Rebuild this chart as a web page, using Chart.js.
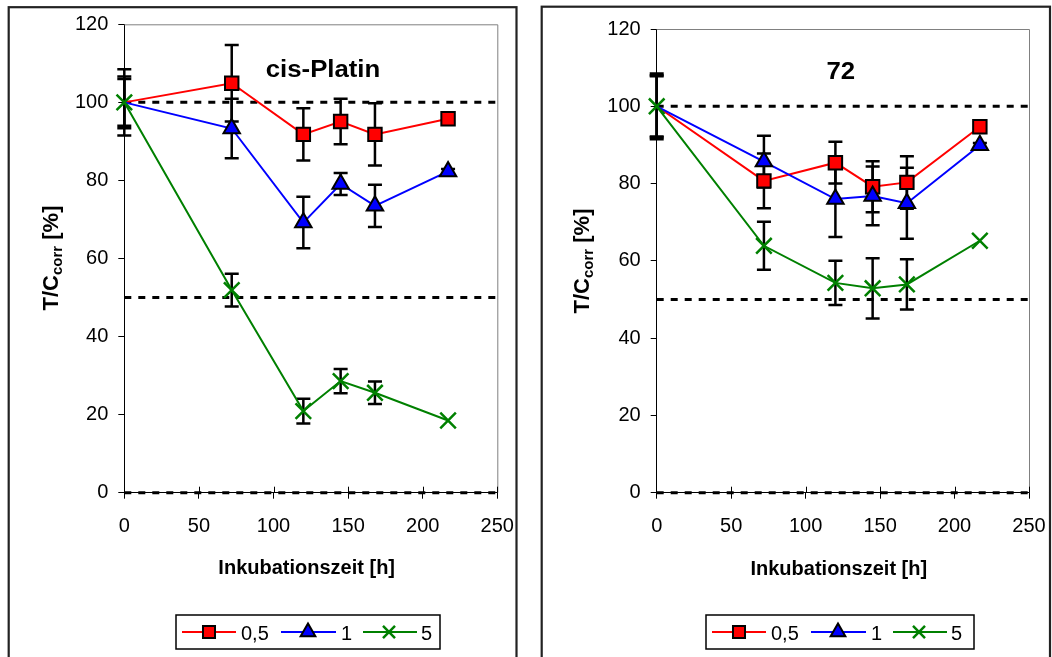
<!DOCTYPE html>
<html>
<head>
<meta charset="utf-8">
<script src="https://cdn.jsdelivr.net/npm/chart.js@4.4.1/dist/chart.umd.min.js"></script>
<style>
  html, body { margin: 0; padding: 0; background: #fff; width: 1052px; height: 657px; overflow: hidden; }
  canvas { position: absolute; top: 0; }
</style>
</head>
<body>
<canvas id="cisPlatin" width="526" height="657" style="left:0"></canvas>
<canvas id="cmp72" width="526" height="657" style="left:526px"></canvas>
<script>
// Incubation times [h]
const hours = [0, 72, 120, 145, 168, 217];
const seriesNames = ['0,5', '1', '5'];
const xTickValues = [0, 50, 100, 150, 200, 250];
const yTickValues = [0, 20, 40, 60, 80, 100, 120];
const refLevels = [100, 50, 0];

// cis-Platin: T/Ccorr [%] and standard deviations
const cisLow = [100, 104.9, 91.8, 95.1, 91.8, 95.8];
const cisLowErr = [8.5, 9.8, 6.7, 5.8, 8.0, 0];
const cisMid = [100, 93.3, 69.2, 79.1, 73.5, 82.3];
const cisMidErr = [6.0, 7.6, 6.6, 2.8, 5.4, 0.6];
const cisHigh = [100, 51.9, 20.9, 28.6, 25.6, 18.5];
const cisHighErr = [6.6, 4.2, 3.2, 3.1, 2.9, 0];

// Compound 72: T/Ccorr [%] and standard deviations
const c72Low = [100, 80.7, 85.4, 79.2, 80.3, 94.7];
const c72LowErr = [8.5, 7.1, 5.4, 6.6, 6.8, 0];
const c72Mid = [100, 85.7, 76.0, 76.8, 74.9, 89.9];
const c72MidErr = [7.8, 6.7, 9.8, 7.6, 9.2, 0.6];
const c72High = [100, 63.9, 54.3, 52.9, 53.9, 65.2];
const c72HighErr = [8.0, 6.2, 5.7, 7.8, 6.5, 0];

const FONT = "'Liberation Sans', Arial, Helvetica, sans-serif";

const styles = [
  { color: '#FF0000', pointStyle: 'rect', radius: 9.5, fill: '#FF0000', edge: '#000000', edgeWidth: 2, legendRadius: 8.5, firstMarker: false },
  { color: '#0000FF', pointStyle: 'triangle', radius: 9.5, fill: '#0000FF', edge: '#000000', edgeWidth: 2, legendRadius: 8.5, firstMarker: false },
  { color: '#008000', pointStyle: 'crossRot', radius: 11, fill: '#008000', edge: '#008000', edgeWidth: 2.5, legendRadius: 8.5, firstMarker: true }
];

function seriesDataset(values, errors, idx) {
  const s = styles[idx];
  return {
    label: seriesNames[idx],
    data: hours.map((h, i) => ({ x: h, y: values[i] })),
    errorBars: errors,
    borderColor: s.color,
    borderWidth: 2,
    tension: 0,
    pointStyle: s.pointStyle,
    pointRadius: hours.map((h, i) => (i === 0 && !s.firstMarker) ? 0 : s.radius),
    pointBackgroundColor: s.fill,
    pointBorderColor: s.edge,
    pointBorderWidth: s.edgeWidth,
    clip: false,
    order: 3 - idx
  };
}

function refDataset(level, k) {
  return {
    label: 'ref' + level,
    data: [{ x: xTickValues[0], y: level }, { x: xTickValues[xTickValues.length - 1], y: level }],
    borderColor: '#000000',
    borderWidth: 3,
    borderDash: [7, 7],
    pointRadius: 0,
    clip: false,
    order: 10 + k
  };
}

function panelPlugin(cfg) {
  return {
    id: 'panel' + cfg.key,
    beforeDraw(chart) {
      const ctx = chart.ctx;
      ctx.save();
      ctx.fillStyle = '#ffffff';
      ctx.fillRect(0, 0, chart.width, chart.height);
      ctx.restore();
    },
    beforeDatasetsDraw(chart) {
      const ctx = chart.ctx;
      const a = chart.chartArea;
      const xs = chart.scales.x, ys = chart.scales.y;
      ctx.save();
      // light frame on the top and right of the plot area
      ctx.strokeStyle = '#808080';
      ctx.lineWidth = 1;
      ctx.beginPath();
      ctx.moveTo(a.left, a.top + 0.5);
      ctx.lineTo(a.right + 0.5, a.top + 0.5);
      ctx.lineTo(a.right + 0.5, a.bottom);
      ctx.stroke();
      // error bars
      ctx.strokeStyle = '#000000';
      ctx.lineWidth = 2.5;
      chart.data.datasets.forEach(ds => {
        if (!ds.errorBars) return;
        ds.data.forEach((p, i) => {
          const e = ds.errorBars[i];
          if (!e) return;
          const x = xs.getPixelForValue(p.x);
          const y1 = ys.getPixelForValue(p.y + e);
          const y2 = ys.getPixelForValue(p.y - e);
          ctx.beginPath();
          ctx.moveTo(x, y1); ctx.lineTo(x, y2);
          ctx.moveTo(x - 7, y1); ctx.lineTo(x + 7, y1);
          ctx.moveTo(x - 7, y2); ctx.lineTo(x + 7, y2);
          ctx.stroke();
        });
      });
      ctx.restore();
    },
    afterDraw(chart) {
      const ctx = chart.ctx;
      const a = chart.chartArea;
      const xs = chart.scales.x;
      ctx.save();
      // x tick marks crossing the axis
      ctx.strokeStyle = '#000000';
      ctx.lineWidth = 1;
      ctx.beginPath();
      xTickValues.forEach(v => {
        if (v === xTickValues[0]) return;
        const x = Math.round(xs.getPixelForValue(v)) + 0.5;
        ctx.moveTo(x, a.bottom - 6); ctx.lineTo(x, a.bottom);
      });
      ctx.stroke();

      // panel border
      ctx.strokeStyle = '#222222';
      ctx.lineWidth = 2.2;
      ctx.strokeRect(cfg.border.x, cfg.border.y, cfg.border.w, 720);

      ctx.fillStyle = '#000000';
      // chart title
      ctx.save();
      ctx.font = 'bold 23px ' + FONT;
      ctx.textAlign = 'center';
      ctx.textBaseline = 'alphabetic';
      ctx.translate(cfg.title.x, cfg.title.y);
      ctx.scale(1.12, 1);
      ctx.fillText(cfg.title.text, 0, 0);
      ctx.restore();

      // x axis title
      ctx.font = 'bold 20px ' + FONT;
      ctx.textAlign = 'center';
      ctx.textBaseline = 'alphabetic';
      ctx.fillText('Inkubationszeit [h]', cfg.xTitle.x, cfg.xTitle.y);

      // y axis title with subscript
      ctx.save();
      ctx.translate(cfg.yTitle.x, cfg.yTitle.y);
      ctx.rotate(-Math.PI / 2);
      const mainFont = 'bold 22px ' + FONT, subFont = 'bold 15px ' + FONT;
      const parts = [['T/C', mainFont, 0], ['corr', subFont, 4], [' [%]', mainFont, 0]];
      let total = 0;
      parts.forEach(p => { ctx.font = p[1]; total += ctx.measureText(p[0]).width; });
      let cx = -total / 2;
      ctx.textAlign = 'left';
      parts.forEach(p => { ctx.font = p[1]; ctx.fillText(p[0], cx, p[2]); cx += ctx.measureText(p[0]).width; });
      ctx.restore();

      // legend
      const L = cfg.legend;
      ctx.strokeStyle = '#000000';
      ctx.lineWidth = 1.5;
      ctx.strokeRect(L.x, L.y, L.w, L.h);
      const cy = L.y + 17;
      const items = [
        { l0: 6, l1: 60, m: 33, t: 65 },
        { l0: 105, l1: 160, m: 132, t: 165 },
        { l0: 187, l1: 241, m: 213, t: 245 }
      ];
      items.forEach((it, k) => {
        const s = styles[k];
        ctx.strokeStyle = s.color;
        ctx.lineWidth = 2;
        ctx.beginPath();
        ctx.moveTo(L.x + it.l0, cy); ctx.lineTo(L.x + it.l1, cy);
        ctx.stroke();
        ctx.fillStyle = s.fill;
        ctx.strokeStyle = s.edge;
        ctx.lineWidth = s.edgeWidth;
        Chart.helpers.drawPoint(ctx, { pointStyle: s.pointStyle, radius: s.legendRadius, rotation: 0, borderWidth: s.edgeWidth }, L.x + it.m, cy);
        ctx.fillStyle = '#000000';
        ctx.font = '20px ' + FONT;
        ctx.textAlign = 'left';
        ctx.textBaseline = 'alphabetic';
        ctx.fillText(seriesNames[k], L.x + it.t, cy + 8);
      });
      ctx.restore();
    }
  };
}

function buildChart(canvasId, cfg, low, lowErr, mid, midErr, high, highErr) {
  const W = 526, H = 657;
  return new Chart(document.getElementById(canvasId), {
    type: 'line',
    data: {
      datasets: [
        seriesDataset(low, lowErr, 0),
        seriesDataset(mid, midErr, 1),
        seriesDataset(high, highErr, 2),
        ...refLevels.map((lv, k) => refDataset(lv, k))
      ]
    },
    options: {
      responsive: false,
      maintainAspectRatio: false,
      animation: false,
      devicePixelRatio: 1,
      events: [],
      layout: { padding: { left: 0, top: cfg.plot.top, right: W - cfg.plot.right, bottom: 0 } },
      plugins: { legend: { display: false }, tooltip: { enabled: false }, title: { display: false } },
      scales: {
        x: {
          type: 'linear',
          min: xTickValues[0],
          max: xTickValues[xTickValues.length - 1],
          afterBuildTicks: s => { s.ticks = xTickValues.map(v => ({ value: v })); },
          afterFit: s => { s.height = H - cfg.plot.bottom; s.paddingLeft = 0; s.paddingRight = 0; },
          grid: { drawOnChartArea: false, drawTicks: true, tickLength: 6, color: '#000000', lineWidth: 1 },
          border: { display: true, color: '#000000', width: 1 },
          ticks: { color: '#000000', font: { family: FONT, size: 20 }, padding: 16, maxRotation: 0, autoSkip: false }
        },
        y: {
          type: 'linear',
          min: yTickValues[0],
          max: yTickValues[yTickValues.length - 1],
          afterBuildTicks: s => { s.ticks = yTickValues.map(v => ({ value: v })); },
          afterFit: s => { s.width = cfg.plot.left; s.paddingTop = 0; s.paddingBottom = 0; },
          grid: { drawOnChartArea: false, drawTicks: true, tickLength: 6, color: '#000000', lineWidth: 1 },
          border: { display: true, color: '#000000', width: 1 },
          ticks: { color: '#000000', font: { family: FONT, size: 20 }, padding: 10, autoSkip: false }
        }
      }
    },
    plugins: [panelPlugin(cfg)]
  });
}

buildChart('cisPlatin', {
  key: 'A',
  plot: { left: 124.3, top: 24.3, right: 497.3, bottom: 492.7 },
  border: { x: 8.7, y: 7.2, w: 507.8 },
  title: { text: 'cis-Platin', x: 323, y: 77.3 },
  xTitle: { x: 306.7, y: 574 },
  yTitle: { x: 58.3, y: 258 },
  legend: { x: 176, y: 615, w: 264, h: 34 }
}, cisLow, cisLowErr, cisMid, cisMidErr, cisHigh, cisHighErr);

buildChart('cmp72', {
  key: 'B',
  plot: { left: 130.7, top: 29, right: 503, bottom: 492.7 },
  border: { x: 15.7, y: 6.7, w: 508.3 },
  title: { text: '72', x: 314.8, y: 79 },
  xTitle: { x: 312.8, y: 574.5 },
  yTitle: { x: 63, y: 261 },
  legend: { x: 180, y: 615, w: 268, h: 34 }
}, c72Low, c72LowErr, c72Mid, c72MidErr, c72High, c72HighErr);
</script>
</body>
</html>
